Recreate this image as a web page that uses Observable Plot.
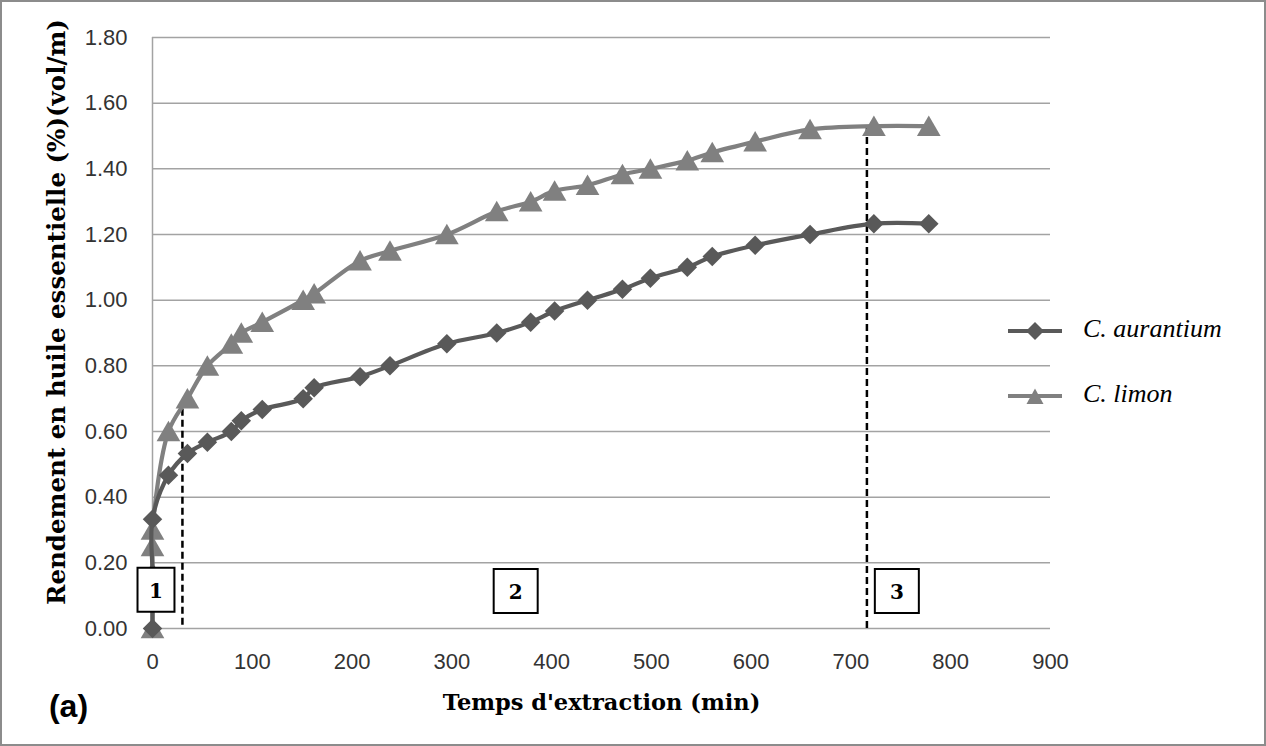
<!DOCTYPE html>
<html>
<head>
<meta charset="utf-8">
<script src="https://cdn.jsdelivr.net/npm/d3@7"></script>
<script src="https://cdn.jsdelivr.net/npm/@observablehq/plot@0.6"></script>
<style>
  html, body { margin: 0; padding: 0; background: #fff; }
  #wrap { position: relative; width: 1266px; height: 746px; overflow: hidden; background: #fff; }
  #wrap svg { position: absolute; left: 0; top: 0; }
  #frame { position: absolute; left: 0; top: 0; width: 1266px; height: 746px; box-sizing: border-box; border: 2px solid #8c8c8c; pointer-events: none; }
</style>
</head>
<body>
<div id="wrap"><div id="frame"></div></div>
<script>
// ---- data ----
const time = [0, 0, 0, 16, 35, 55, 79, 89, 110, 151, 162, 208, 238, 295, 345, 379, 403, 436, 471, 499, 536, 561, 604, 659, 723, 778];
const aurantium = [0, 0.167, 0.333, 0.467, 0.533, 0.567, 0.600, 0.633, 0.667, 0.700, 0.733, 0.767, 0.800, 0.867, 0.900, 0.933, 0.967, 1.000, 1.033, 1.067, 1.100, 1.133, 1.167, 1.200, 1.233, 1.233];
const limon = [0, 0.250, 0.300, 0.600, 0.700, 0.800, 0.867, 0.900, 0.933, 1.000, 1.020, 1.120, 1.150, 1.200, 1.270, 1.300, 1.333, 1.350, 1.383, 1.400, 1.425, 1.450, 1.483, 1.520, 1.530, 1.530];
const seriesNames = ["C. aurantium", "C. limon"];
const xTicks = [0, 100, 200, 300, 400, 500, 600, 700, 800, 900];
const yTicks = [0, 0.2, 0.4, 0.6, 0.8, 1.0, 1.2, 1.4, 1.6, 1.8];
const phaseLabels = ["1", "2", "3"];
const phaseTime = [3.5, 364, 746];
const phaseLevel = [0.118, 0.114, 0.114];
const dividerTime = [30, 716];
const dividerTop = [0.69, 1.535];
const dividerBottom = [0.01, 0];
const xTitle = "Temps d'extraction (min)";
const yTitle = "Rendement en huile essentielle (%)(vol/m)";
const panelTag = "(a)";

// ---- tables ----
const aurRows = time.map((t, i) => ({t, v: aurantium[i]}));
const limRows = time.map((t, i) => ({t, v: limon[i]}));
const phases = phaseLabels.map((label, i) => ({label, t: phaseTime[i], v: phaseLevel[i]}));
const dividers = dividerTime.map((t, i) => ({t, y1: dividerBottom[i], y2: dividerTop[i]}));

const colAur = "#595959";
const colLim = "#808080";
const gridCol = "#a3a3a3";
const serif = "'DejaVu Serif', serif";

const narrowBox = {draw(ctx, size) { const h = Math.sqrt(size); const w = h * 0.84; ctx.rect(-w / 2, -h / 2, w, h); }};
const boxR = 44 / Math.sqrt(Math.PI);

const chart = Plot.plot({
  width: 1266, height: 746,
  marginLeft: 152, marginRight: 216, marginTop: 37, marginBottom: 118,
  x: {domain: [0, 900]},
  y: {domain: [0, 1.8]},
  style: {fontFamily: "'Liberation Sans', Arial, sans-serif", fontSize: "22px", color: "#333", background: "transparent", overflow: "visible"},
  marks: [
    Plot.gridY(yTicks, {stroke: gridCol, strokeOpacity: 1, strokeWidth: 1.5}),
    Plot.ruleX([0], {stroke: gridCol, strokeWidth: 1.5}),
    Plot.axisX(xTicks, {tickSize: 0, tickPadding: 25, label: null, fontSize: 22}),
    Plot.axisY(yTicks, {tickSize: 0, tickPadding: 25, label: null, tickFormat: d3.format(".2f"), fontSize: 22}),
    Plot.ruleX(dividers, {x: "t", y1: "y1", y2: "y2", stroke: "#000", strokeWidth: 2.5, strokeDasharray: "7,4"}),
    Plot.line(limRows, {x: "t", y: "v", stroke: colLim, strokeWidth: 4.2, curve: "catmull-rom"}),
    Plot.dot(limRows, {x: "t", y: "v", symbol: "triangle", r: 8.8, fill: colLim, dy: 3}),
    Plot.line(aurRows, {x: "t", y: "v", stroke: colAur, strokeWidth: 4.2, curve: "catmull-rom"}),
    Plot.dot(aurRows, {x: "t", y: "v", symbol: "diamond2", r: 8.8, fill: colAur}),
    Plot.dot(phases, {filter: d => d.label === "1", x: "t", y: "v", symbol: narrowBox, r: boxR, fill: "#fff", stroke: "#000", strokeWidth: 2}),
    Plot.dot(phases, {filter: d => d.label !== "1", x: "t", y: "v", symbol: "square", r: boxR, fill: "#fff", stroke: "#000", strokeWidth: 2}),
    Plot.text(phases, {x: "t", y: "v", text: "label", fontFamily: serif, fontWeight: "bold", fontSize: 20, fill: "#000", dy: 2}),
    Plot.text([yTitle], {frameAnchor: "left", textAnchor: "middle", lineAnchor: "middle", dx: -95, dy: -21, rotate: -90, fontFamily: serif, fontWeight: "bold", fontSize: 24.5, fill: "#000"}),
    Plot.text([xTitle], {frameAnchor: "bottom", textAnchor: "middle", lineAnchor: "middle", dy: 74, fontFamily: serif, fontWeight: "bold", fontSize: 22.5, fill: "#000"}),
    Plot.text([panelTag], {frameAnchor: "bottom-left", textAnchor: "middle", lineAnchor: "middle", dx: -84, dy: 78, fontFamily: "'Liberation Sans', Arial, sans-serif", fontWeight: "bold", fontSize: 32, fill: "#000"})
  ]
});

// legend (drawn onto the same svg)
const svg = d3.select(chart);
const lg = svg.append("g").attr("text-anchor", "start");
const legendTop = 331, legendStep = 65;
const legendShapes = ["M0,-9L9,0L0,9L-9,0Z", "M0,-7.5L8.5,8L-8.5,8Z"];
const legendCols = [colAur, colLim];
seriesNames.forEach((name, i) => {
  const y = legendTop + i * legendStep;
  lg.append("line").attr("x1", 1008).attr("x2", 1062).attr("y1", y).attr("y2", y)
    .attr("stroke", legendCols[i]).attr("stroke-width", 4);
  lg.append("path").attr("d", legendShapes[i]).attr("transform", `translate(1035,${y})`).attr("fill", legendCols[i]);
  lg.append("text").attr("x", 1083).attr("y", y + 6).attr("text-anchor", "start").text(name)
    .attr("font-family", "'Liberation Serif', serif").attr("font-style", "italic").attr("font-size", 26).attr("fill", "#000");
});

document.getElementById("wrap").prepend(chart);
</script>
</body>
</html>
